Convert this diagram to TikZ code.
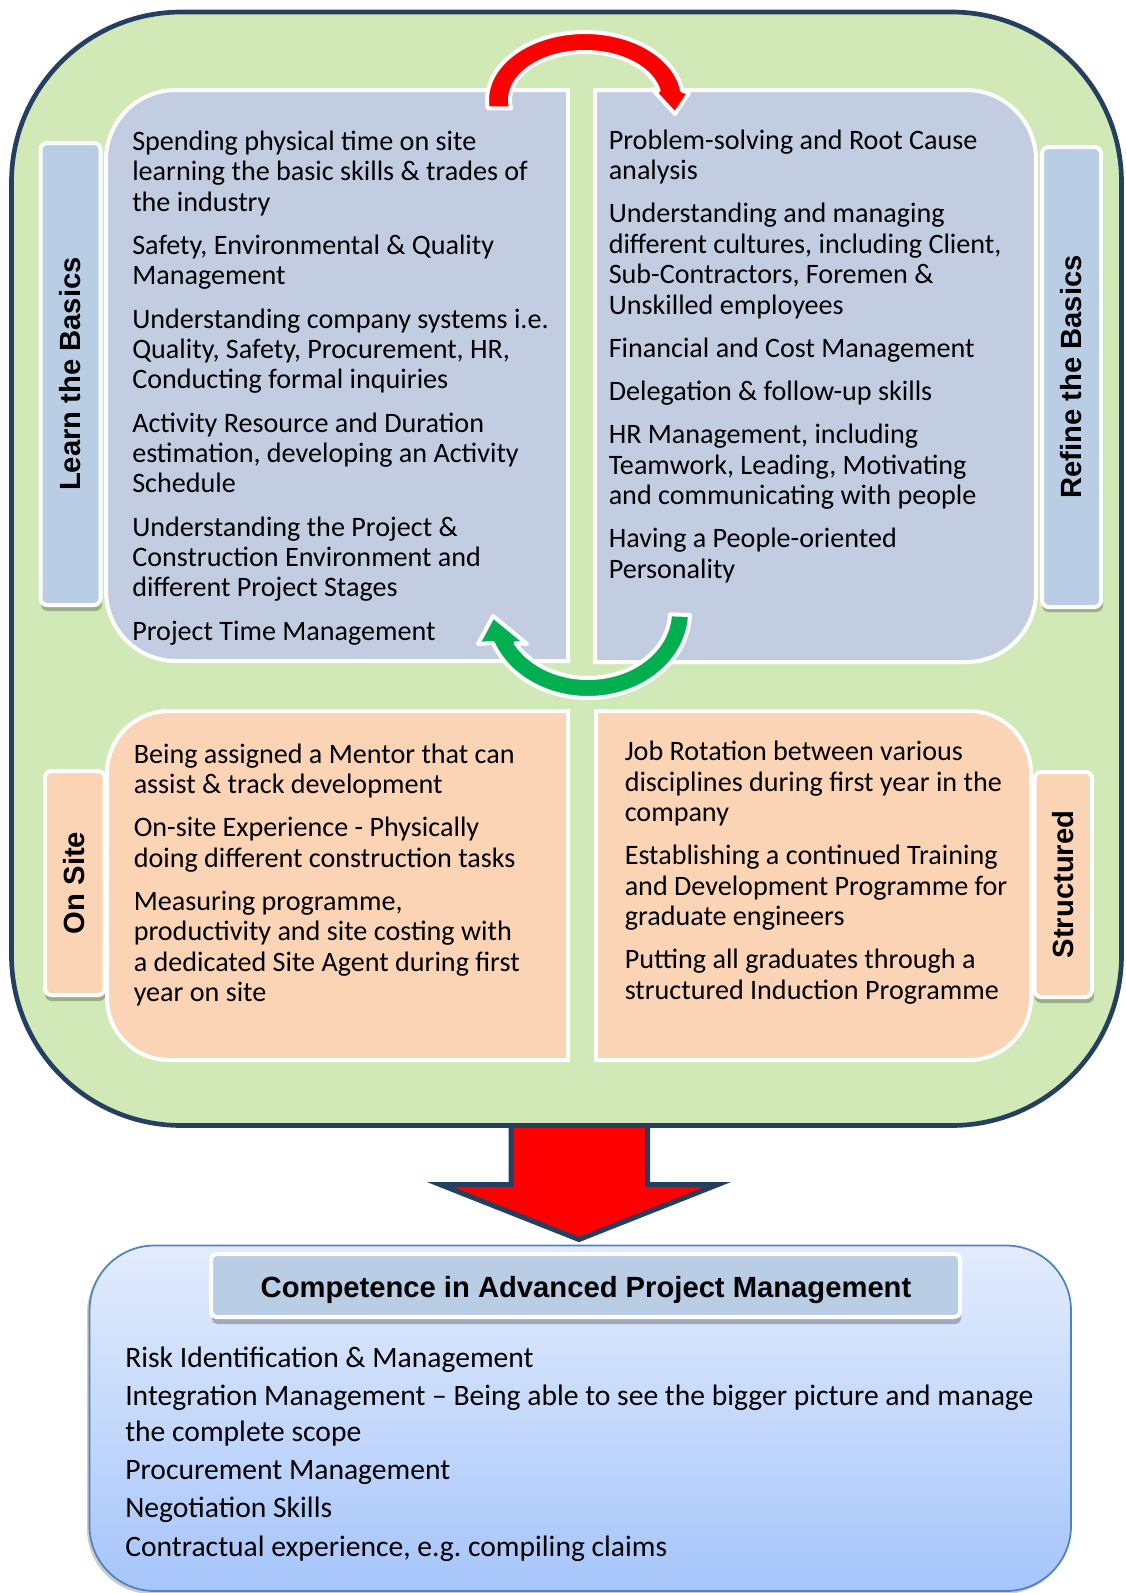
\documentclass[tikz,border=0pt]{standalone}
\usepackage{fontspec}
\setmainfont{Carlito}
\newfontfamily\headfont{Liberation Sans}
\frenchspacing
\definecolor{greenbg}{RGB}{209,233,182}
\definecolor{navy}{RGB}{36,63,96}
\definecolor{panelblue}{RGB}{195,205,225}
\definecolor{tabblue}{RGB}{185,205,229}
\definecolor{peach}{RGB}{250,212,180}
\definecolor{arrowgreen}{RGB}{0,176,80}
\definecolor{boxtop}{RGB}{227,236,252}
\definecolor{boxbot}{RGB}{166,197,250}
\definecolor{boxline}{RGB}{79,129,189}
\begin{document}
\begin{tikzpicture}[x=0.75pt,y=-0.75pt,
  panel/.style={draw=white, line width=3pt, line join=miter},
  tabbox/.style={draw=white, line width=3pt, rounded corners=5pt},
  tabshadow/.style={fill=black, opacity=0.25, rounded corners=5pt},
  body/.style={anchor=base west, align=left, inner sep=0pt, font=\fontsize{21.1}{22.8}\selectfont},
  bodybig/.style={anchor=base west, align=left, inner sep=0pt, font=\fontsize{22.2}{27.2}\selectfont},
  tabtext/.style={rotate=90, inner sep=0pt, font=\headfont\bfseries\fontsize{21.9}{26}\selectfont},
  curvearrow/.style={draw=white, line width=3pt, line join=round}]
\useasboundingbox (0,0) rectangle (1126,1593);

% big down arrow (behind the green box)
\filldraw[fill=red, draw=navy, line width=3.75pt, line join=miter]
  (511,1110) -- (511,1184.5) -- (440,1184.5) -- (579,1239.5) -- (718,1184.5)
  -- (647.5,1184.5) -- (647.5,1110) -- cycle;

% outer green box
\draw[fill=greenbg, draw=navy, line width=3.5pt, rounded corners=127.5pt]
  (11.5,12) rectangle (1121.5,1125.5);

% tabs (shadows first)
\fill[tabshadow] (41,149) rectangle (102,611);
\fill[tabshadow] (1042,153) rectangle (1103,612);
\fill[tabshadow] (45,777) rectangle (106,1001);
\fill[tabshadow] (1034.5,778) rectangle (1094,1003);
\draw[tabbox, fill=tabblue] (40.5,143) rectangle (100.5,605);
\draw[tabbox, fill=tabblue] (1042,147) rectangle (1101,607);
\draw[tabbox, fill=peach] (45,771) rectangle (104.5,995);
\draw[tabbox, fill=peach] (1034.5,772) rectangle (1092,997);

% panels
\draw[panel, fill=panelblue] (568,90) -- (176,90) .. controls (137.3,90) and (106,121.3) .. (106,160)
  -- (106,591) .. controls (106,629.7) and (137.3,661) .. (176,661) -- (568,661) -- cycle;
\draw[panel, fill=panelblue] (595,90) -- (966,90) .. controls (1004.7,90) and (1036,121.3) .. (1036,160)
  -- (1036,592) .. controls (1036,630.7) and (1004.7,662) .. (966,662) -- (595,662) -- cycle;
\draw[panel, fill=peach] (568,711) -- (169,711) .. controls (134.8,711) and (107,738.8) .. (107,773)
  -- (107,998) .. controls (107,1032.2) and (134.8,1060) .. (169,1060) -- (568,1060) -- cycle;
\draw[panel, fill=peach] (596,711) -- (969,711) .. controls (1003.2,711) and (1031,738.8) .. (1031,773)
  -- (1031,998) .. controls (1031,1032.2) and (1003.2,1060) .. (969,1060) -- (596,1060) -- cycle;

% tab labels
\node[tabtext] (learn) at (70.5,374) {Learn the Basics};
\node[tabtext] (refine) at (1071.5,377) {Refine the Basics};
\node[tabtext] (onsite) at (74.5,883) {On Site};
\node[tabtext] (struct) at (1063,884.5) {Structured};

% curved arrows
\filldraw[curvearrow, fill=red]
  plot[domain=173:352, samples=60] ({585+98*cos(\x)},{100+68*sin(\x)})
  -- (689,93) -- (675,114) -- (652,89)
  -- plot[domain=349:170, samples=60] ({585+75*cos(\x)},{100+48*sin(\x)}) -- cycle;
\filldraw[curvearrow, fill=arrowgreen]
  plot[domain=2:158.9, samples=60] ({588+102*cos(\x)},{612+86*sin(\x)})
  -- (478,644) -- (493,616) -- (527,644)
  -- plot[domain=152:2, samples=60] ({588+82*cos(\x)},{612+66*sin(\x)}) -- cycle;

% panel texts (anchor = baseline of the last line)
\node[body] (tl) at (132,640) {Spending physical time on site\\
learning the basic skills \& trades of\\
the industry\\[9.6pt]
Safety, Environmental \& Quality\\
Management\\[9.6pt]
Understanding company systems i.e.\\
Quality, Safety, Procurement, HR,\\
Conducting formal inquiries\\[9.6pt]
Activity Resource and Duration\\
estimation, developing an Activity\\
Schedule\\[9.6pt]
Understanding the Project \&\\
Construction Environment and\\
different Project Stages\\[9.6pt]
Project Time Management};

\node[body] (tr) at (608.5,578) {Problem-solving and Root Cause\\
analysis\\[9.6pt]
Understanding and managing\\
different cultures, including Client,\\
Sub-Contractors, Foremen \&\\
Unskilled employees\\[9.6pt]
Financial and Cost Management\\[9.6pt]
Delegation \& follow-up skills\\[9.6pt]
HR Management, including\\
Teamwork, Leading, Motivating\\
and communicating with people\\[9.6pt]
Having a People-oriented\\
Personality};

\node[body] (bl) at (133.5,1001.7) {Being assigned a Mentor that can\\
assist \& track development\\[9.6pt]
On-site Experience - Physically\\
doing different construction tasks\\[9.6pt]
Measuring programme,\\
productivity and site costing with\\
a dedicated Site Agent during first\\
year on site};

\node[body] (br) at (624.5,999) {Job Rotation between various\\
disciplines during first year in the\\
company\\[9.6pt]
Establishing a continued Training\\
and Development Programme for\\
graduate engineers\\[9.6pt]
Putting all graduates through a\\
structured Induction Programme};

% bottom box
\fill[black, opacity=0.2, rounded corners=48.75pt] (87,1248) rectangle (1069,1594);
\draw[draw=boxline, line width=1.3pt, top color=boxtop, bottom color=boxbot, rounded corners=48.75pt]
  (89.5,1245.5) rectangle (1071,1591);

% title tab
\fill[black, opacity=0.25, rounded corners=4pt] (212,1260) rectangle (961,1324);
\draw[tabbox, fill=tabblue, rounded corners=4pt] (211,1254) rectangle (960,1317);
\node[anchor=base, inner sep=0pt, font=\headfont\bfseries\fontsize{21.9}{26}\selectfont]
  (title) at (586,1297.6) {Competence in Advanced Project Management};

\node[bodybig] (bot) at (125,1556) {Risk Identification \& Management\\[1.4pt]
Integration Management – Being able to see the bigger picture and manage\\
the complete scope\\[1.4pt]
Procurement Management\\[1.4pt]
Negotiation Skills\\[1.4pt]
Contractual experience, e.g.\ compiling claims};
\end{tikzpicture}
\end{document}
